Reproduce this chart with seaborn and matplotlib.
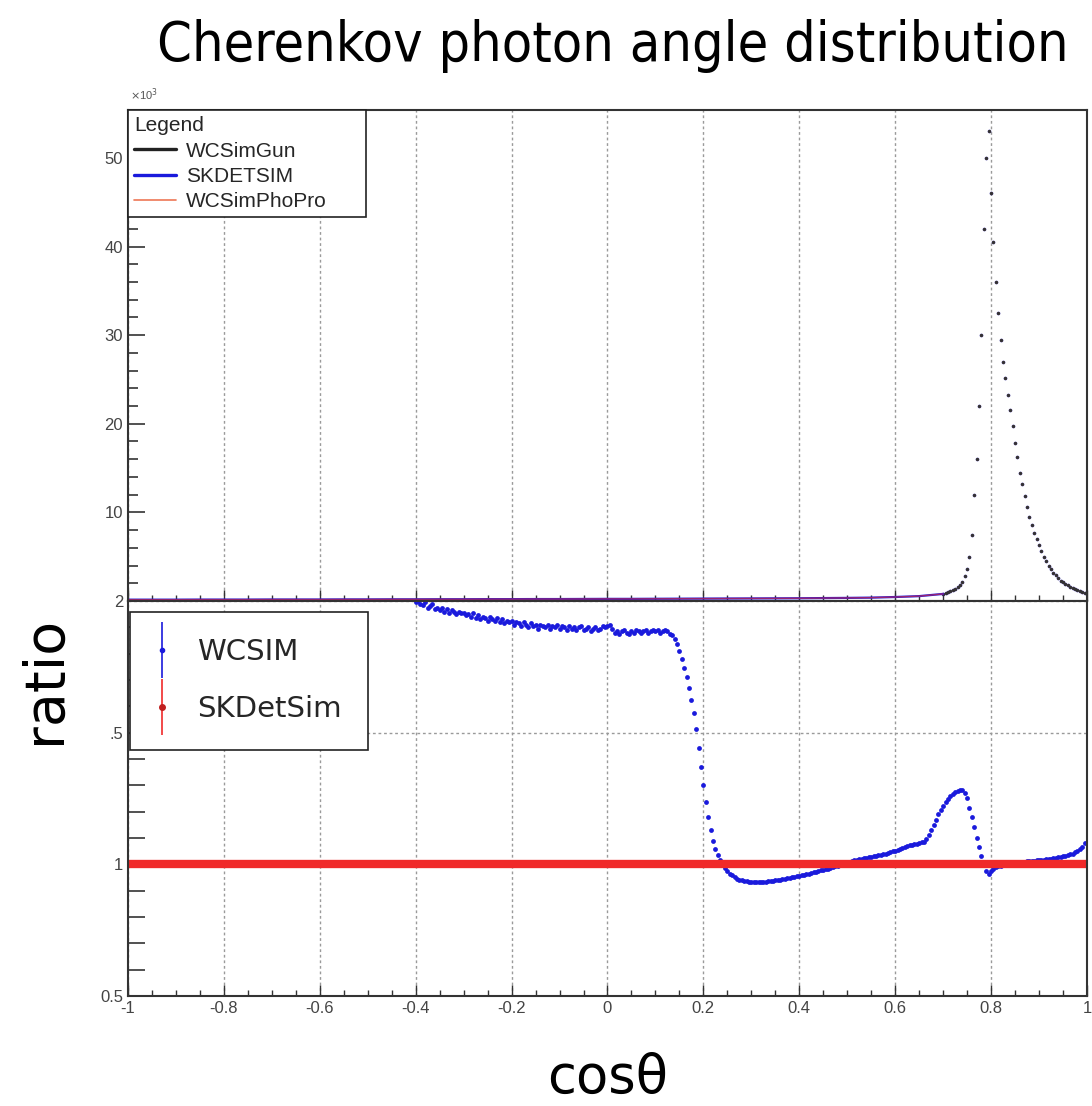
import numpy as np
import pandas as pd
import seaborn as sns
import matplotlib.pyplot as plt
from matplotlib.lines import Line2D
from matplotlib.ticker import MultipleLocator, FixedLocator

# top panel: photon counts (x10^3) vs cos(theta)
cos_low = [-1.00, -0.95, -0.90, -0.85, -0.80, -0.75, -0.70, -0.65, -0.60, -0.55,
           -0.50, -0.45, -0.40, -0.35, -0.30, -0.25, -0.20, -0.15, -0.10, -0.05,
           0.00, 0.05, 0.10, 0.15, 0.20, 0.25, 0.30, 0.35, 0.40, 0.45,
           0.50, 0.55, 0.60, 0.65]
counts_low = [0.15, 0.15, 0.15, 0.16, 0.16, 0.16, 0.17, 0.17, 0.17, 0.18,
              0.18, 0.19, 0.19, 0.20, 0.20, 0.21, 0.21, 0.22, 0.22, 0.23,
              0.24, 0.24, 0.25, 0.26, 0.27, 0.28, 0.29, 0.30, 0.31, 0.33,
              0.35, 0.38, 0.45, 0.55]
# bins 0.700 ... 0.995, step 0.005
cos_peak = np.linspace(0.70, 0.995, 60)
counts_peak = [0.8, 0.9, 1.0, 1.1, 1.2, 1.4, 1.6, 1.8, 2.2, 2.8,
               3.6, 5.0, 7.5, 12.0, 16.0, 22.0, 30.0, 42.0, 50.0, 53.0,
               46.0, 40.5, 36.0, 32.5, 29.5, 27.0, 25.2, 23.3, 21.5, 19.8,
               17.8, 16.3, 14.5, 13.2, 11.8, 10.6, 9.5, 8.6, 7.7, 7.0,
               6.3, 5.6, 5.0, 4.5, 4.0, 3.6, 3.2, 2.9, 2.6, 2.3,
               2.1, 1.9, 1.75, 1.6, 1.45, 1.35, 1.2, 1.1, 1.0, 0.9]

# bottom panel: WCSIM / SKDetSim ratio, bins -0.400 ... 0.995, step 0.005
ratio_x = np.linspace(-0.40, 0.995, 280)
wcsim_ratio = [
    1.995, 2.0, 1.99, 1.985, 1.995, 1.975, 1.98, 1.99, 1.97, 1.975, 1.965, 1.975, 1.96, 1.97, 1.955, 1.965, 1.96, 1.95, 1.96, 1.955,
    1.955, 1.945, 1.95, 1.94, 1.955, 1.935, 1.945, 1.93, 1.94, 1.935, 1.925, 1.94, 1.93, 1.925, 1.935, 1.92, 1.93, 1.915, 1.925, 1.92,
    1.925, 1.91, 1.92, 1.915, 1.905, 1.92, 1.91, 1.90, 1.915, 1.905, 1.91, 1.895, 1.91, 1.905, 1.90, 1.91, 1.895, 1.905, 1.90, 1.91,
    1.895, 1.905, 1.90, 1.89, 1.905, 1.895, 1.90, 1.89, 1.90, 1.905, 1.89, 1.895, 1.90, 1.885, 1.895, 1.90, 1.89, 1.895, 1.905, 1.90,
    1.905, 1.91, 1.895, 1.88, 1.885, 1.875, 1.885, 1.89, 1.88, 1.875, 1.885, 1.88, 1.89, 1.885, 1.88, 1.885, 1.89, 1.88, 1.885, 1.89,
    1.885, 1.89, 1.88, 1.885, 1.89, 1.885, 1.875, 1.87, 1.855, 1.835, 1.81, 1.78, 1.745, 1.71, 1.67, 1.625, 1.575, 1.515, 1.44, 1.37,
    1.30, 1.235, 1.18, 1.13, 1.09, 1.06, 1.035, 1.015, 1.0, 0.985, 0.975, 0.965, 0.958, 0.952, 0.946, 0.942, 0.939, 0.937, 0.935, 0.934,
    0.933, 0.932, 0.932, 0.932, 0.933, 0.933, 0.934, 0.935, 0.936, 0.937, 0.939, 0.940, 0.942, 0.943, 0.945, 0.947, 0.949, 0.951, 0.953, 0.955,
    0.957, 0.959, 0.961, 0.963, 0.965, 0.967, 0.970, 0.972, 0.974, 0.977, 0.979, 0.982, 0.984, 0.987, 0.990, 0.992, 0.995, 0.998, 1.001, 1.004,
    1.007, 1.010, 1.013, 1.015, 1.017, 1.019, 1.021, 1.023, 1.025, 1.026, 1.028, 1.030, 1.032, 1.034, 1.036, 1.038, 1.040, 1.043, 1.046, 1.049,
    1.052, 1.055, 1.059, 1.063, 1.067, 1.070, 1.073, 1.075, 1.077, 1.079, 1.081, 1.083, 1.085, 1.095, 1.112, 1.13, 1.15, 1.17, 1.19, 1.205,
    1.22, 1.235, 1.248, 1.258, 1.267, 1.274, 1.279, 1.282, 1.281, 1.272, 1.25, 1.215, 1.18, 1.14, 1.10, 1.065, 1.03, 1.0, 0.975, 0.965,
    0.975, 0.982, 0.988, 0.992, 0.995, 0.997, 0.999, 1.001, 1.003, 1.004, 1.005, 1.007, 1.008, 1.009, 1.010, 1.011, 1.012, 1.013, 1.014, 1.015,
    1.016, 1.017, 1.018, 1.019, 1.020, 1.021, 1.023, 1.025, 1.027, 1.029, 1.031, 1.033, 1.035, 1.038, 1.041, 1.045, 1.05, 1.057, 1.066, 1.08,
]
skdet_x = [-1.0, 1.0]
skdet_ratio = [1.0, 1.0]

x_ticks = [-1, -0.8, -0.6, -0.4, -0.2, 0, 0.2, 0.4, 0.6, 0.8, 1]
x_labels = ["-1", "-0.8", "-0.6", "-0.4", "-0.2", "0", "0.2", "0.4", "0.6", "0.8", "1"]
top_ticks = [10, 20, 30, 40, 50]
ratio_ticks = [0.5, 1, 1.5, 2]
ratio_labels = ["0.5", "1", ".5", "2"]

BLUE = "#1a1adc"
RED = "#f02a2a"
ORANGE = "#ee7755"

sns.set_theme(style="ticks")
plt.rcParams["font.family"] = ["Liberation Sans", "DejaVu Sans"]

fig = plt.figure(figsize=(10.92, 11.06), dpi=100)
ax_top = fig.add_axes([0.1172, 0.4566, 0.8782, 0.4439])
ax_bot = fig.add_axes([0.1172, 0.0995, 0.8782, 0.3571])

low = pd.DataFrame({"cos": cos_low + [cos_peak[0]], "n": counts_low + [counts_peak[0]]})
peak = pd.DataFrame({"cos": cos_peak, "n": counts_peak})

sns.lineplot(data=low, x="cos", y="n", color=BLUE, lw=1.6, ax=ax_top)
sns.lineplot(data=low, x="cos", y="n", color=RED, lw=1.0, alpha=0.6, ax=ax_top)
sns.scatterplot(data=peak, x="cos", y="n", color=BLUE, s=7, linewidth=0, alpha=0.6, ax=ax_top)
sns.scatterplot(data=peak, x="cos", y="n", color=RED, s=5, linewidth=0, alpha=0.4, ax=ax_top)
sns.scatterplot(data=peak, x="cos", y="n", color="#333333", s=6, marker="o", linewidth=0, ax=ax_top)

ratio = pd.DataFrame({"cos": ratio_x, "r": wcsim_ratio})
sk = pd.DataFrame({"cos": skdet_x, "r": skdet_ratio})
sns.lineplot(data=sk, x="cos", y="r", color=RED, lw=6, ax=ax_bot)
sns.scatterplot(data=ratio, x="cos", y="r", color=BLUE, s=12, linewidth=0, ax=ax_bot)

for ax in (ax_top, ax_bot):
    ax.set_xlim(-1, 1)
    ax.xaxis.set_major_locator(FixedLocator(x_ticks))
    ax.xaxis.set_minor_locator(MultipleLocator(0.05))
    ax.grid(axis="x", which="major", color="#9a9a9a", ls=(0, (2, 2)), lw=1)
    ax.tick_params(which="both", direction="in", color="#333333", labelcolor="#444444", labelsize=12)
    ax.tick_params(axis="x", which="major", length=8, width=1)
    ax.tick_params(axis="x", which="minor", length=4, width=1)
    ax.tick_params(axis="y", which="major", length=12, width=1.2)
    ax.tick_params(axis="y", which="minor", length=7, width=1.2)
    for sp in ax.spines.values():
        sp.set_color("#333333")
        sp.set_linewidth(1.5)
    ax.set_xlabel("")
    ax.set_ylabel("")

ax_top.set_ylim(0, 55.4)
ax_top.yaxis.set_major_locator(FixedLocator(top_ticks))
ax_top.yaxis.set_minor_locator(MultipleLocator(2))
ax_top.set_xticklabels([])
ax_top.set_axisbelow(True)

ax_bot.set_ylim(0.5, 2)
ax_bot.yaxis.set_major_locator(FixedLocator(ratio_ticks))
ax_bot.set_yticklabels(ratio_labels)
ax_bot.yaxis.set_minor_locator(MultipleLocator(0.1))
ax_bot.set_xticklabels(x_labels)
ax_bot.grid(axis="y", which="major", color="#9a9a9a", ls=(0, (2, 2)), lw=1)
ax_bot.tick_params(axis="y", which="minor", length=12)
ax_bot.tick_params(axis="y", which="major", length=16)

# legends
top_handles = [Line2D([], [], color="#222222", lw=2.4),
               Line2D([], [], color=BLUE, lw=2.4),
               Line2D([], [], color=ORANGE, lw=1.2)]
leg = ax_top.legend(top_handles, ["WCSimGun", "SKDETSIM", "WCSimPhoPro"], title="Legend",
                    loc="upper left", bbox_to_anchor=(0.0, 0.0, 0.248, 1.0), mode="expand",
                    borderaxespad=0, fancybox=False, framealpha=1,
                    edgecolor="#222222", fontsize=15, title_fontsize=15,
                    handlelength=2.0, alignment="left", labelspacing=0.3,
                    borderpad=0.3, handletextpad=0.5)
leg.get_frame().set_linewidth(1.2)
leg.get_frame().set_boxstyle("square", pad=0)

bot_handles = [(Line2D([], [], color=BLUE, marker="|", ms=40, ls="None", mew=1.2),
                Line2D([], [], color=BLUE, marker="o", ms=3, ls="None")),
               (Line2D([], [], color=RED, marker="|", ms=40, ls="None", mew=1.2),
                Line2D([], [], color="#c02020", marker="o", ms=4, ls="None"))]
leg2 = ax_bot.legend(bot_handles, ["WCSIM", "SKDetSim"], loc="upper left",
                     bbox_to_anchor=(0.002, 0.972), borderaxespad=0, fancybox=False,
                     framealpha=1, edgecolor="#222222",
                     prop={"family": ["DejaVu Sans"], "size": 21},
                     handlelength=0.4, labelspacing=1.0, borderpad=0.9, handletextpad=1.0)
leg2.get_frame().set_linewidth(1.2)

# texts
fig.text(0.119, 0.907, r"$\times$10$^3$", fontsize=8, color="#555555", ha="left", va="bottom")
fig.text(0.561, 0.958, "Cherenkov photon angle distribution", fontsize=40, color="black",
         family=["DejaVu Sans"], fontstretch="condensed", ha="center", va="center")
fig.text(0.041, 0.385, "ratio", fontsize=40, family=["DejaVu Sans"], rotation=90,
         ha="center", va="center", color="black")
fig.text(0.556, 0.025, "cosθ", fontsize=38, family=["DejaVu Sans"], ha="center", va="center",
         color="black")

fig.savefig("out.png", dpi=100)
